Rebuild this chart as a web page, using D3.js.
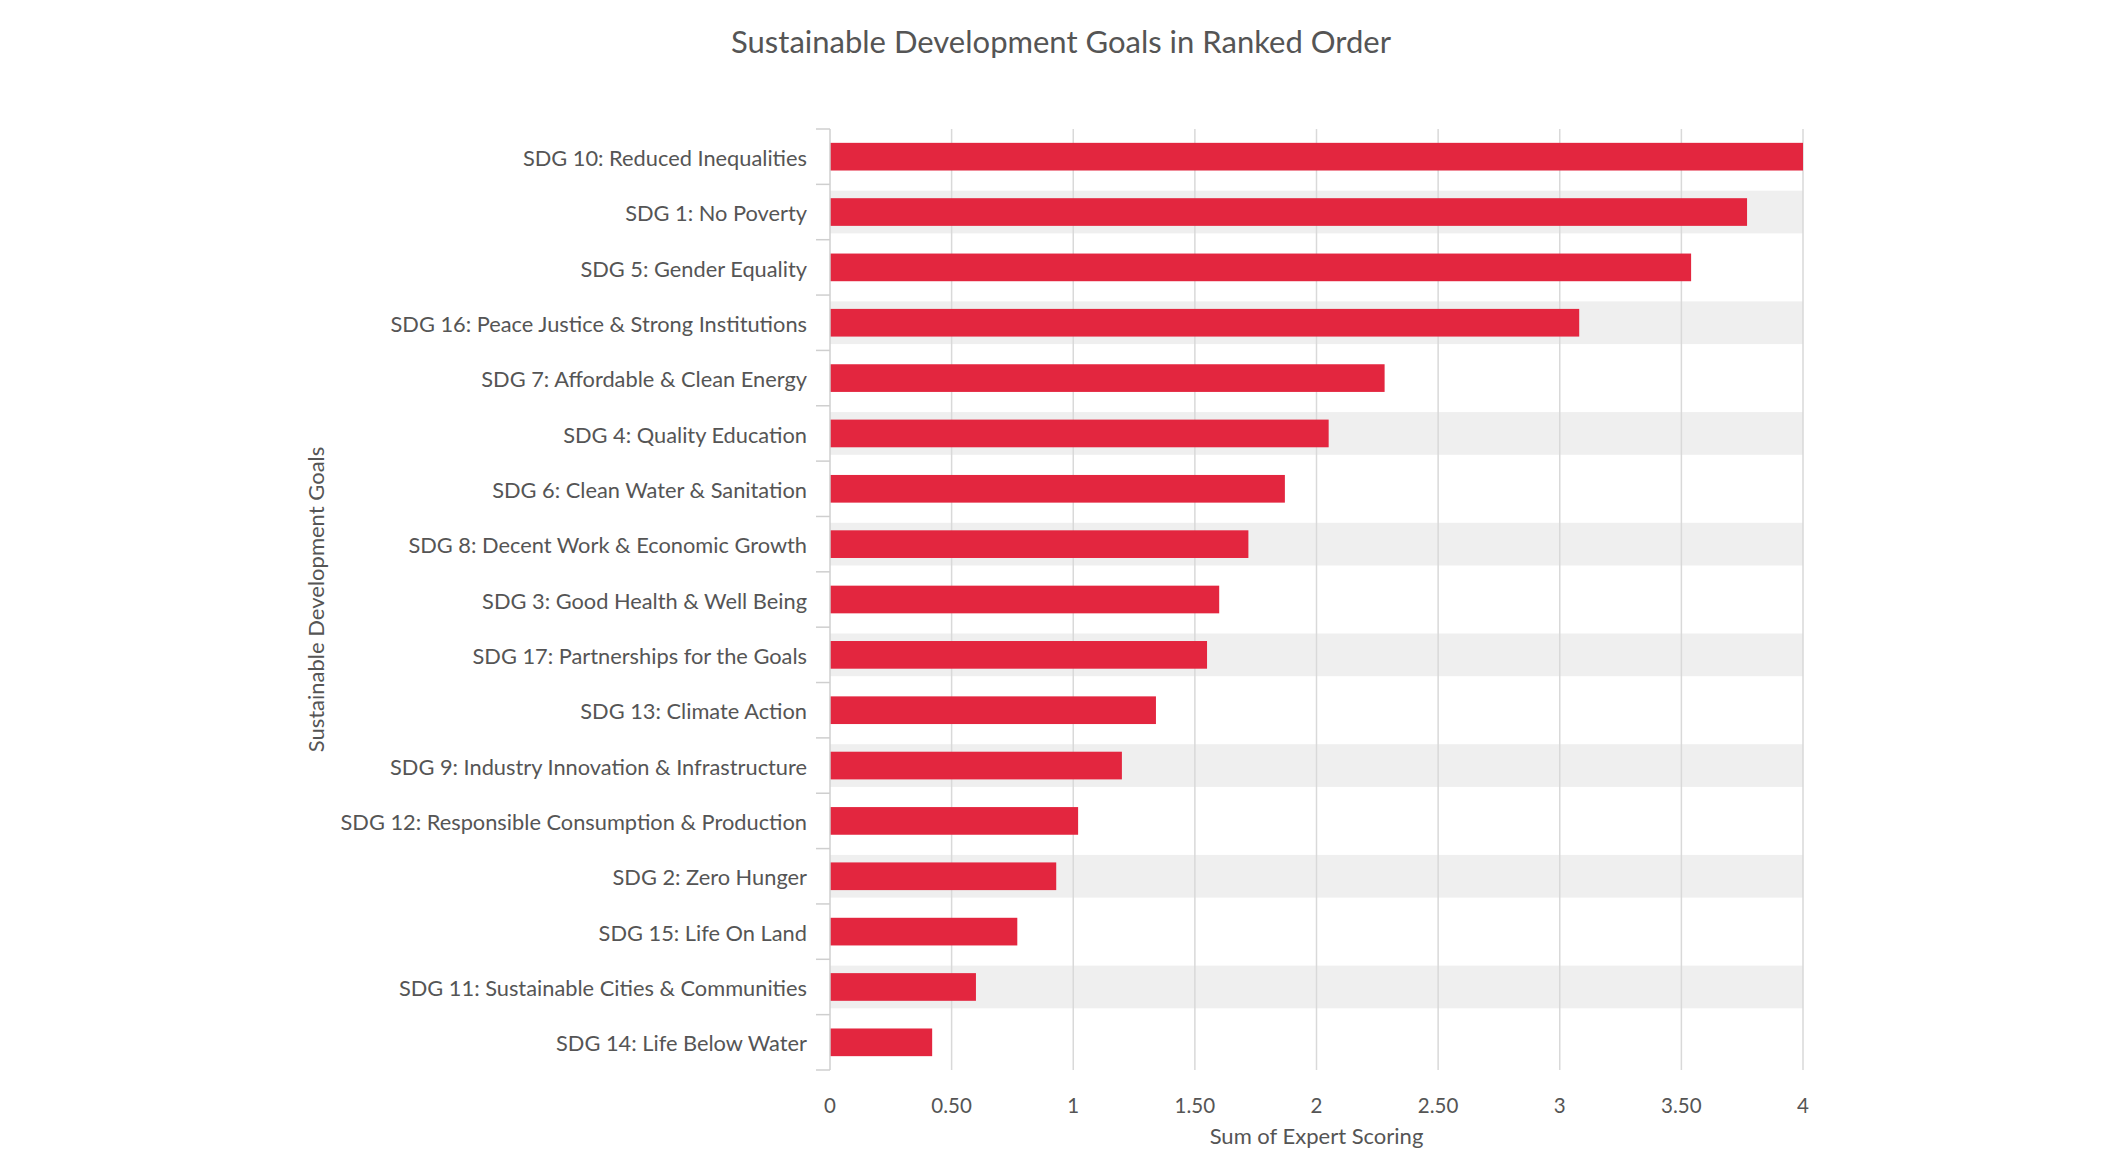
<!DOCTYPE html>
<html lang="en">
<head>
    <meta charset="UTF-8">
    <title>Sustainable Development Goals in Ranked Order</title>
    <script src="https://d3js.org/d3.v7.min.js"></script>
    <style>
        body { margin: 0; background: #fff; }
        text { font-family: Lato, "Open Sans", sans-serif; fill: #555; }
        .title { font-size: 31px; }
        .cat-label { font-size: 21.8px; }
        .tick-label { font-size: 20.5px; }
        .axis-title { font-size: 22px; }
        .grid line { stroke: #d9d9d9; stroke-width: 1.5px; }
        .band { fill: #efefef; }
        .bar { fill: #e3263f; }
        .y-axis line, .y-axis path { stroke: #cfcfcf; stroke-width: 1.5px; }
    </style>
</head>
<body>
    <svg width="2122" height="1160"></svg>
    <script>
        // goals in ranked order, top to bottom
        const goals = [
            "SDG 10: Reduced Inequalities",
            "SDG 1: No Poverty",
            "SDG 5: Gender Equality",
            "SDG 16: Peace Justice & Strong Institutions",
            "SDG 7: Affordable & Clean Energy",
            "SDG 4: Quality Education",
            "SDG 6: Clean Water & Sanitation",
            "SDG 8: Decent Work & Economic Growth",
            "SDG 3: Good Health & Well Being",
            "SDG 17: Partnerships for the Goals",
            "SDG 13: Climate Action",
            "SDG 9: Industry Innovation & Infrastructure",
            "SDG 12: Responsible Consumption & Production",
            "SDG 2: Zero Hunger",
            "SDG 15: Life On Land",
            "SDG 11: Sustainable Cities & Communities",
            "SDG 14: Life Below Water"
        ];
        const scores = [4.00, 3.77, 3.54, 3.08, 2.28, 2.05, 1.87, 1.72, 1.60, 1.55,
                        1.34, 1.20, 1.02, 0.93, 0.77, 0.60, 0.42];
        const xTicks = [0, 0.5, 1, 1.5, 2, 2.5, 3, 3.5, 4];
        const xTickLabels = ["0", "0.50", "1", "1.50", "2", "2.50", "3", "3.50", "4"];

        const svg = d3.select("svg"),
              width = +svg.attr("width");

        const plotTop = 129, plotBottom = 1070;
        const x = d3.scaleLinear().domain([0, 4]).range([830, 1803]);
        const y = d3.scaleBand().domain(goals).range([plotTop, plotBottom]).paddingInner(0.5).paddingOuter(0.25);
        const step = y.step();

        // title
        svg.append("text")
            .attr("class", "title")
            .attr("x", width / 2)
            .attr("y", 42)
            .attr("dy", "0.35em")
            .attr("text-anchor", "middle")
            .text("Sustainable Development Goals in Ranked Order");

        // alternating row bands
        svg.selectAll(".band")
            .data(goals.filter((d, i) => i % 2 === 1))
            .enter().append("rect")
            .attr("class", "band")
            .attr("x", x(0))
            .attr("width", x(4) - x(0))
            .attr("y", d => y(d) - 7.5)
            .attr("height", y.bandwidth() + 15);

        // vertical grid lines
        svg.append("g")
            .attr("class", "grid")
            .selectAll("line")
            .data(xTicks.slice(1))
            .enter().append("line")
            .attr("x1", d => x(d))
            .attr("x2", d => x(d))
            .attr("y1", plotTop)
            .attr("y2", plotBottom);

        // bars
        svg.selectAll(".bar")
            .data(goals)
            .enter().append("rect")
            .attr("class", "bar")
            .attr("x", x(0))
            .attr("y", d => y(d))
            .attr("height", y.bandwidth())
            .attr("width", (d, i) => x(scores[i]) - x(0));

        // y axis with ticks at the band boundaries
        const yAxis = svg.append("g").attr("class", "y-axis");
        yAxis.append("line")
            .attr("x1", x(0)).attr("x2", x(0))
            .attr("y1", plotTop).attr("y2", plotBottom);
        yAxis.selectAll(".bound")
            .data(d3.range(goals.length + 1))
            .enter().append("line")
            .attr("x1", x(0) - 14).attr("x2", x(0))
            .attr("y1", i => plotTop + i * step)
            .attr("y2", i => plotTop + i * step);

        // category labels
        svg.selectAll(".cat-label")
            .data(goals)
            .enter().append("text")
            .attr("class", "cat-label")
            .attr("x", x(0) - 23)
            .attr("y", d => y(d) + y.bandwidth() / 2 + 1.5)
            .attr("dy", "0.35em")
            .attr("text-anchor", "end")
            .text(d => d);

        // x tick labels
        svg.selectAll(".tick-label")
            .data(xTicks)
            .enter().append("text")
            .attr("class", "tick-label")
            .attr("x", d => x(d))
            .attr("y", 1106)
            .attr("dy", "0.35em")
            .attr("text-anchor", "middle")
            .text((d, i) => xTickLabels[i]);

        // axis titles
        svg.append("text")
            .attr("class", "axis-title")
            .attr("x", (x(0) + x(4)) / 2)
            .attr("y", 1136)
            .attr("dy", "0.35em")
            .attr("text-anchor", "middle")
            .text("Sum of Expert Scoring");

        svg.append("text")
            .attr("class", "axis-title")
            .attr("transform", "translate(316," + ((plotTop + plotBottom) / 2) + ") rotate(-90)")
            .attr("dy", "0.35em")
            .attr("text-anchor", "middle")
            .text("Sustainable Development Goals");
    </script>
</body>
</html>
